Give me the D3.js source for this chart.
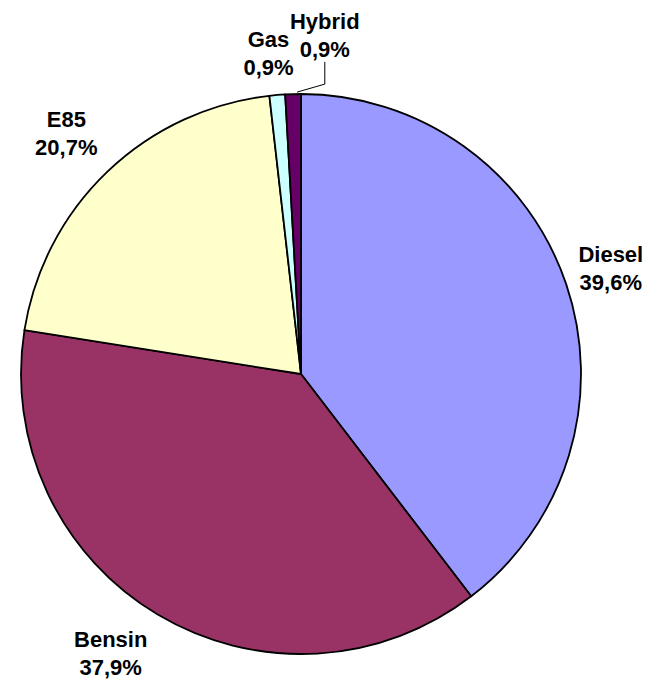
<!DOCTYPE html>
<html>
<head>
<meta charset="utf-8">
<script src="https://cdn.jsdelivr.net/npm/d3@7"></script>
<style>
  html, body { margin: 0; padding: 0; background: #ffffff; }
  svg { display: block; }
</style>
</head>
<body>
<div id="chart"></div>
<script>
// ---- data ----
const categories = ["Diesel", "Bensin", "E85", "Gas", "Hybrid"];
const values = [39.6, 37.9, 20.7, 0.9, 0.9];
const colors = ["#9999FF", "#993366", "#FFFFCC", "#CCFFFF", "#660066"];

// ---- layout ----
const W = 655, H = 685;
const cx = 301, cy = 374, R = 280;
const labelR = 325;
const fontSize = 22, lineGap = 28, capH = 15.5;
// per-label nudges (px) relative to the polar anchor
const nudge = {
  Diesel: [2, -1],
  Bensin: [-24, 0],
  E85: [-10, -6],
  Gas: [-5, 3],
  Hybrid: [33, -14]
};

const svg = d3.select("#chart").append("svg")
  .attr("width", W).attr("height", H);

const data = categories.map((c, i) => ({ name: c, value: values[i], color: colors[i] }));

const pie = d3.pie().value(d => d.value).sort(null);
const arcs = pie(data);
const arc = d3.arc().innerRadius(0).outerRadius(R);

const g = svg.append("g").attr("transform", `translate(${cx},${cy})`);

g.selectAll("path.slice")
  .data(arcs)
  .join("path")
  .attr("class", "slice")
  .attr("d", arc)
  .attr("fill", d => d.data.color)
  .attr("stroke", "#000")
  .attr("stroke-width", 1.8)
  .attr("stroke-linejoin", "round");

const fmt = v => d3.format(".1f")(v).replace(".", ",") + "%";

const labels = g.selectAll("text.lbl")
  .data(arcs)
  .join("text")
  .attr("class", "lbl")
  .attr("text-anchor", "middle")
  .attr("font-family", "'Liberation Sans', Arial, sans-serif")
  .attr("font-weight", "bold")
  .attr("font-size", fontSize)
  .attr("fill", "#000");

function anchorOf(d) {
  const a = (d.startAngle + d.endAngle) / 2;
  const n = nudge[d.data.name] || [0, 0];
  return [labelR * Math.sin(a) + n[0], -labelR * Math.cos(a) + n[1]];
}

labels.each(function(d) {
  const [x, m] = anchorOf(d);
  const top = m - (capH + lineGap) / 2;
  const t = d3.select(this);
  t.append("tspan").attr("x", x).attr("y", top + capH).text(d.data.name);
  t.append("tspan").attr("x", x).attr("y", top + capH + lineGap).text(fmt(d.data.value));
});

// leader line for the Hybrid label
const hyb = arcs.find(d => d.data.name === "Hybrid");
{
  const a = (hyb.startAngle + hyb.endAngle) / 2;
  const [lx, m] = anchorOf(hyb);
  const bottom = m + (capH + lineGap) / 2;
  const sx = (R + 2) * Math.sin(a) + 4, sy = -(R + 2) * Math.cos(a);
  g.append("polyline")
    .attr("points", [[sx, sy], [lx, sy - 8], [lx, bottom + 5]].map(p => p.join(",")).join(" "))
    .attr("fill", "none")
    .attr("stroke", "#000")
    .attr("stroke-width", 1);
}
</script>
</body>
</html>
